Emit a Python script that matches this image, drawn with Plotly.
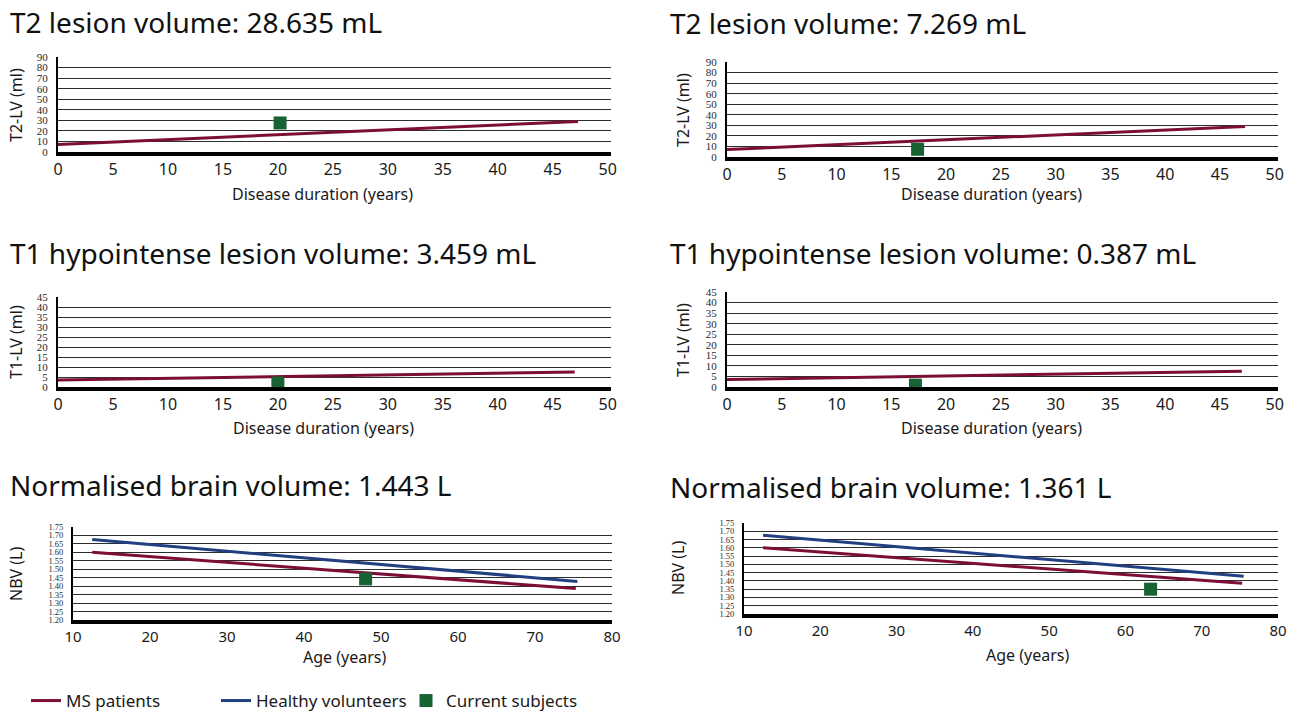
import plotly.graph_objects as go

W, H = 1295, 719

# ---------------- data ----------------
titles = [
    "T2 lesion volume: 28.635 mL", "T2 lesion volume: 7.269 mL",
    "T1 hypointense lesion volume: 3.459 mL", "T1 hypointense lesion volume: 0.387 mL",
    "Normalised brain volume: 1.443 L", "Normalised brain volume: 1.361 L",
]
y_titles = ["T2-LV (ml)", "T2-LV (ml)", "T1-LV (ml)", "T1-LV (ml)", "NBV (L)", "NBV (L)"]
x_titles = ["Disease duration (years)", "Disease duration (years)",
            "Disease duration (years)", "Disease duration (years)",
            "Age (years)", "Age (years)"]
# MS patients reference trend lines
t2_ms_x = [0, 47.3]
t2_ms_y = [7.0, 29.0]
t1_ms_x = [0, 47.0]
t1_ms_y = [3.5, 7.5]
nbv_ms_x = [12.5, 75.3]
nbv_ms_y = [1.600, 1.386]
# Healthy volunteers (NBV only)
nbv_hv_x = [12.5, 75.5]
nbv_hv_y = [1.676, 1.428]
# Current subjects (left, right)
subj_t2_x = [20.2, 17.4]
subj_t2_y = [27.5, 7.3]
subj_t1_x = [20.0, 17.2]
subj_t1_y = [2.0, 0.9]
subj_nbv_x = [48.0, 63.3]
subj_nbv_y = [1.443, 1.350]

MS_C = "#7d0f36"
HV_C = "#223f80"
SQ_C = "#186233"

FONT = "Noto Sans"
NARROW = "Liberation Sans Narrow"

def px_x(a, b):
    return [a / W, b / W]

def px_y(top, bottom):
    return [1 - bottom / H, 1 - top / H]

# panel geometry (pixel positions)
panels = [
    dict(xd=px_x(58, 611), yd=px_y(57, 152), xr=[0, 50.3], xdt=5, yr=[0, 90], ydt=10, yfmt="d", yfs=11, xfs=16),
    dict(xd=px_x(727, 1278), yd=px_y(62, 157), xr=[0, 50.3], xdt=5, yr=[0, 90], ydt=10, yfmt="d", yfs=11, xfs=16),
    dict(xd=px_x(58, 611), yd=px_y(297, 387), xr=[0, 50.3], xdt=5, yr=[0, 45], ydt=5, yfmt="d", yfs=11, xfs=16),
    dict(xd=px_x(727, 1278), yd=px_y(292, 387), xr=[0, 50.3], xdt=5, yr=[0, 45], ydt=5, yfmt="d", yfs=11, xfs=16),
    dict(xd=px_x(73, 612), yd=px_y(527, 620), xr=[10, 80], xdt=10, yr=[1.20, 1.75], ydt=0.05, yfmt=".2f", yfs=8.5, xfs=15),
    dict(xd=px_x(744, 1278), yd=px_y(523, 614), xr=[10, 80], xdt=10, yr=[1.20, 1.75], ydt=0.05, yfmt=".2f", yfs=8.5, xfs=15),
]
title_pos = [(8, 22), (668, 23), (8, 253), (668, 253), (8, 485), (668, 487)]
xtitle_pos = [(322, 194), (991, 194), (323, 428), (991, 428), (344, 657), (1027, 655)]
ytitle_pos = [(16, 105), (683, 110), (16, 342), (683, 340), (16, 574), (678, 568)]

fig = go.Figure()
layout = dict(
    width=W, height=H, margin=dict(l=0, r=0, t=0, b=0),
    paper_bgcolor="white", plot_bgcolor="white",
    font=dict(family=FONT, color="#1a1a1a"),
    showlegend=True,
    legend=dict(orientation="h", x=26 / W, y=0, xanchor="left", yanchor="bottom",
                font=dict(size=17, family=FONT, color="#1a1a1a"),
                entrywidth=145, entrywidthmode="pixels",
                tracegroupgap=0, bgcolor="rgba(0,0,0,0)"),
    annotations=[], hovermode=False,
)

for i, p in enumerate(panels):
    n = "" if i == 0 else str(i + 1)
    layout["xaxis" + n] = dict(
        domain=p["xd"], anchor="y" + n, range=p["xr"], dtick=p["xdt"], tick0=0,
        showline=True, linecolor="black", linewidth=4, showgrid=False, zeroline=False,
        ticks="", tickfont=dict(size=p["xfs"], color="#1a1a1a"),
        automargin=False, fixedrange=True,
    )
    layout["yaxis" + n] = dict(
        domain=p["yd"], anchor="x" + n, range=p["yr"], dtick=p["ydt"], tick0=0,
        tickformat=p["yfmt"],
        showline=True, linecolor="black", linewidth=2, showgrid=True,
        gridcolor="#2e2e2e", gridwidth=1.3, zeroline=False,
        ticks="", ticklabelstandoff=6,
        tickfont=dict(size=p["yfs"], family=NARROW, color="#2a2a2a"),
        automargin=False, fixedrange=True,
    )
    tx, ty = title_pos[i]
    layout["annotations"].append(dict(
        text=titles[i], x=tx / W, y=1 - ty / H, xref="paper", yref="paper",
        xanchor="left", yanchor="middle", showarrow=False,
        font=dict(size=28, family=FONT, color="#111111"),
    ))
    ax, ay = xtitle_pos[i]
    layout["annotations"].append(dict(
        text=x_titles[i], x=ax / W, y=1 - ay / H, xref="paper", yref="paper",
        xanchor="center", yanchor="middle", showarrow=False,
        font=dict(size=16, family=FONT, color="#1a1a1a"),
    ))
    bx, by = ytitle_pos[i]
    layout["annotations"].append(dict(
        text=y_titles[i], x=bx / W, y=1 - by / H, xref="paper", yref="paper",
        xanchor="center", yanchor="middle", showarrow=False, textangle=-90,
        font=dict(size=16, family=FONT, color="#1a1a1a"),
    ))

def add_line(i, xs, ys, color, name, show):
    n = "" if i == 0 else str(i + 1)
    fig.add_trace(go.Scatter(x=xs, y=ys, mode="lines", line=dict(color=color, width=3),
                             name=name, legendgroup=name, showlegend=show,
                             xaxis="x" + n, yaxis="y" + n))

def add_sq(i, x, y, show):
    n = "" if i == 0 else str(i + 1)
    fig.add_trace(go.Scatter(x=[x], y=[y], mode="markers",
                             marker=dict(symbol="square", size=13, color=SQ_C),
                             name="Current subjects", legendgroup="subj", showlegend=show,
                             xaxis="x" + n, yaxis="y" + n))

# MS lines
for i in (0, 1):
    add_line(i, t2_ms_x, t2_ms_y, MS_C, "MS patients", i == 0)
for i in (2, 3):
    add_line(i, t1_ms_x, t1_ms_y, MS_C, "MS patients", False)
for i in (4, 5):
    add_line(i, nbv_ms_x, nbv_ms_y, MS_C, "MS patients", False)
# Healthy volunteers
for i in (4, 5):
    add_line(i, nbv_hv_x, nbv_hv_y, HV_C, "Healthy volunteers", i == 4)
# Subjects
for k in range(2):
    add_sq(k, subj_t2_x[k], subj_t2_y[k], k == 0)
    add_sq(2 + k, subj_t1_x[k], subj_t1_y[k], False)
    add_sq(4 + k, subj_nbv_x[k], subj_nbv_y[k], False)

fig.update_layout(**layout)
fig.write_html("out.html", config={"displayModeBar": False},
               post_script="document.body.style.margin='0';document.body.style.overflow='hidden';")
